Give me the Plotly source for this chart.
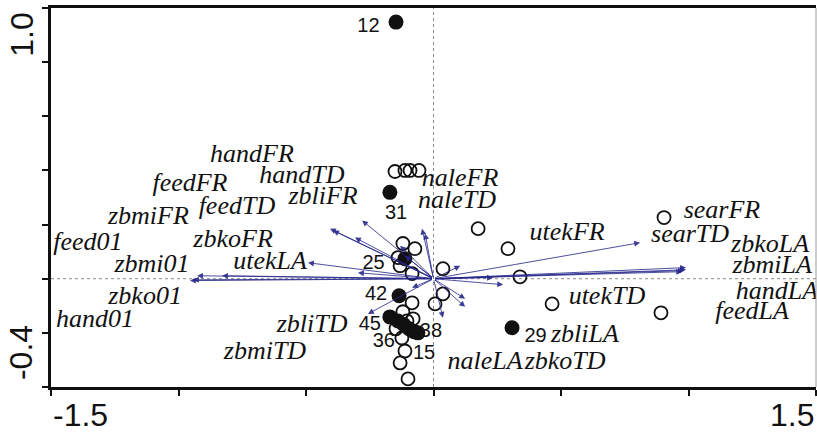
import plotly.graph_objects as go

# ---- variable (arrow) scores: axis 1, axis 2 ----
var_names = ["zbkoLA", "zbmiLA", "handLA", "feedLA", "searTD", "searFR",
             "utekFR", "utekTD", "hand01", "zbko01", "zbmi01", "feed01",
             "utekLA", "zbkoFR", "zbmiFR", "feedFR", "feedTD", "handFR",
             "handTD", "zbliFR", "naleFR", "naleTD", "zbliTD", "zbmiTD",
             "zbliLA", "zbkoTD", "naleLA"]
var_ax1 = [0.990, 0.990, 0.982, 0.975, 0.810, 0.105,
           0.233, 0.273, -0.955, -0.943, -0.927, -0.829,
           -0.492, -0.296, -0.406, -0.394, -0.308, -0.280,
           -0.131, -0.112, -0.045, -0.033, -0.257, -0.084,
           0.124, 0.124, 0.037]
var_ax2 = [0.041, 0.033, 0.030, 0.026, 0.133, 0.048,
           0.004, -0.022, -0.007, -0.004, 0.011, 0.011,
           0.059, 0.022, 0.185, 0.178, 0.152, 0.215,
           0.122, 0.085, 0.185, 0.167, -0.130, -0.033,
           -0.074, -0.104, -0.144]

# label placement for each variable name (data units)
var_lab_x = [1.320, 1.328, 1.347, 1.249, 1.006, 1.131,
             0.524, 0.680, -1.327, -1.131, -1.104, -1.355,
             -0.641, -0.786, -1.118, -0.955, -0.771, -0.712,
             -0.516, -0.433, 0.104, 0.092, -0.476, -0.661,
             0.594, 0.516, 0.202]
var_lab_y = [0.124, 0.046, -0.050, -0.124, 0.159, 0.248,
             0.167, -0.070, -0.156, -0.070, 0.048, 0.130,
             0.059, 0.141, 0.226, 0.348, 0.263, 0.456,
             0.378, 0.300, 0.366, 0.286, -0.174, -0.274,
             -0.211, -0.311, -0.311]

# ---- site scores ----
open_ax1 = [-0.151, -0.112, -0.092, -0.057, -0.120, -0.073, -0.139, -0.131,
            -0.084, 0.037, 0.037, 0.006, -0.084, -0.120, -0.104, -0.147,
            -0.080, -0.124, -0.112, -0.131, -0.100, 0.175, 0.292, 0.339,
            0.465, 0.904, 0.892]
open_ax2 = [0.396, 0.400, 0.400, 0.400, 0.130, 0.111, 0.078, 0.048,
            0.019, 0.037, -0.056, -0.093, -0.089, -0.122, -0.156, -0.185,
            -0.148, -0.219, -0.267, -0.311, -0.370, 0.185, 0.111, 0.007,
            -0.093, 0.226, -0.126]

filled_ax1 = [-0.147, -0.171, -0.112, -0.135, -0.171, -0.139, -0.116,
              -0.096, -0.076, -0.061, 0.308]
filled_ax2 = [0.948, 0.319, 0.074, -0.063, -0.141, -0.156, -0.170,
              -0.185, -0.196, -0.200, -0.181]

site_ids = ["12", "31", "25", "42", "45", "36", "38", "15", "29"]
site_lab_x = [-0.255, -0.147, -0.235, -0.225, -0.250, -0.195, -0.010, -0.037, 0.400]
site_lab_y = [0.930, 0.240, 0.056, -0.060, -0.170, -0.233, -0.196, -0.278, -0.215]

X_TICKS = [-1.5, -1.0, -0.5, 0.0, 0.5, 1.0, 1.5]
Y_TICKS = [-0.4, -0.2, 0.0, 0.2, 0.4, 0.6, 0.8, 1.0]

ARROW = "#27278c"
INK = "#111111"

fig = go.Figure()

# dotted reference lines through the origin
fig.add_shape(type="line", x0=-1.5, x1=1.5, y0=0, y1=0, xref="x", yref="y",
              line=dict(color="#8a8a8a", width=1, dash="dot"), layer="below")
fig.add_shape(type="line", x0=0, x1=0, y0=-0.4, y1=1.0, xref="x", yref="y",
              line=dict(color="#8a8a8a", width=1, dash="dot"), layer="below")

fig.add_trace(go.Scatter(
    x=open_ax1, y=open_ax2, mode="markers",
    marker=dict(symbol="circle-open", size=13, color=INK, line=dict(width=1.8)),
    hoverinfo="skip", showlegend=False))
fig.add_trace(go.Scatter(
    x=filled_ax1, y=filled_ax2, mode="markers",
    marker=dict(symbol="circle", size=15, color=INK),
    hoverinfo="skip", showlegend=False))

# site numbers
fig.add_trace(go.Scatter(
    x=site_lab_x, y=site_lab_y, mode="text", text=site_ids,
    textfont=dict(family="Liberation Sans, Arial", size=20, color=INK),
    hoverinfo="skip", showlegend=False))

# variable arrows from the origin
for name, vx, vy in zip(var_names, var_ax1, var_ax2):
    fig.add_annotation(x=vx, y=vy, ax=0, ay=0, xref="x", yref="y",
                       axref="x", ayref="y", text="", showarrow=True,
                       arrowhead=2, arrowsize=1.3, arrowwidth=0.9,
                       arrowcolor=ARROW, opacity=0.9)

# variable names
fig.add_trace(go.Scatter(
    x=var_lab_x, y=var_lab_y, mode="text", text=var_names,
    textfont=dict(family="Liberation Serif, Times New Roman", size=26,
                  color=INK, style="italic"),
    hoverinfo="skip", showlegend=False))

# end tick labels
big = dict(family="Liberation Sans, Arial", size=32, color=INK)
fig.add_annotation(x=0, y=-0.02, xref="paper", yref="paper", text="-1.5",
                   showarrow=False, xanchor="left", yanchor="top", font=big)
fig.add_annotation(x=1, y=-0.02, xref="paper", yref="paper", text="1.5",
                   showarrow=False, xanchor="right", yanchor="top", font=big)
fig.add_annotation(x=-0.039, y=0.93, xref="paper", yref="paper", text="1.0",
                   showarrow=False, textangle=-90, xanchor="center",
                   yanchor="middle", font=big)
fig.add_annotation(x=-0.039, y=0.09, xref="paper", yref="paper", text="-0.4",
                   showarrow=False, textangle=-90, xanchor="center",
                   yanchor="middle", font=big)

# thin right border
fig.add_shape(type="line", x0=1, x1=1, y0=0, y1=1, xref="paper", yref="paper",
              line=dict(color="#9a9a9a", width=1))

fig.update_xaxes(range=[-1.5, 1.5], tickvals=X_TICKS, showticklabels=False,
                 ticks="outside", ticklen=6, tickwidth=2, tickcolor=INK,
                 showline=True, linewidth=2.5, linecolor=INK, mirror=True,
                 showgrid=False, zeroline=False)
fig.update_yaxes(range=[-0.4, 1.0], tickvals=Y_TICKS, showticklabels=False,
                 ticks="outside", ticklen=6, tickwidth=2, tickcolor=INK,
                 showline=True, linewidth=2.5, linecolor=INK,
                 showgrid=False, zeroline=False)

fig.update_layout(width=817, height=432,
                  margin=dict(l=51, r=1, t=8, b=45),
                  paper_bgcolor="white", plot_bgcolor="white")

fig.write_html("out.html")
